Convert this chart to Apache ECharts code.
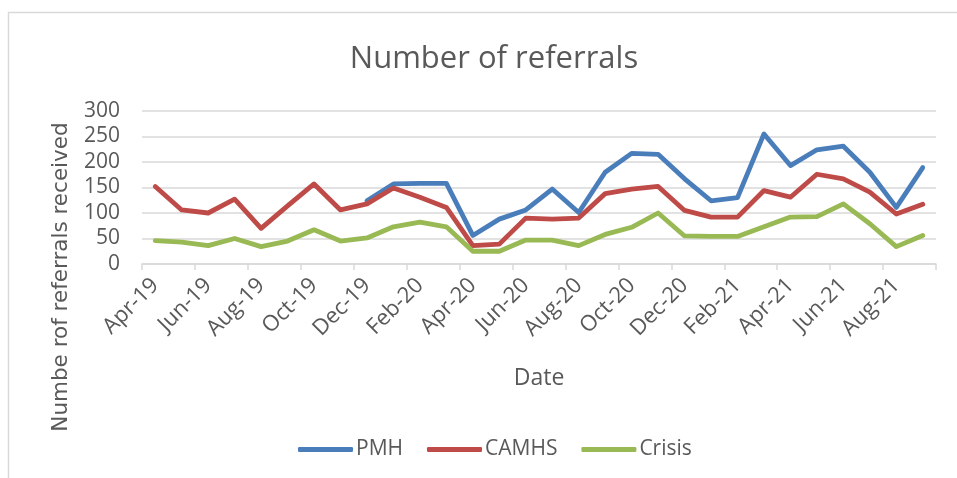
<!DOCTYPE html>
<html>
<head>
<meta charset="utf-8">
<script src="https://cdn.jsdelivr.net/npm/echarts@6/dist/echarts.min.js"></script>
<style>
html,body{margin:0;padding:0;background:#fff;}
#c{width:957px;height:478px;}
</style>
</head>
<body>
<div id="c"></div>
<script>
const categories = ["Apr-19","May-19","Jun-19","Jul-19","Aug-19","Sep-19","Oct-19","Nov-19","Dec-19","Jan-20","Feb-20","Mar-20","Apr-20","May-20","Jun-20","Jul-20","Aug-20","Sep-20","Oct-20","Nov-20","Dec-20","Jan-21","Feb-21","Mar-21","Apr-21","May-21","Jun-21","Jul-21","Aug-21","Sep-21"];
const pmh = [null,null,null,null,null,null,null,null,124,157,158,158,56,88,106,147,101,180,217,215,167,124,130,255,193,224,231,180,111,189];
const camhs = [152,106,100,127,70,114,157,106,118,149,131,111,36,39,90,88,90,138,147,152,105,92,92,144,131,176,167,141,98,117];
const crisis = [46,43,36,50,34,45,67,45,51,73,82,73,25,25,47,47,36,58,72,100,55,54,54,73,92,93,118,79,34,56];
const yTicks = [0,50,100,150,200,250,300];

const font = '"Open Sans", sans-serif';
const grey = '#595959';
const chart = echarts.init(document.getElementById('c'));
const lineStyle = (c) => ({ width: 4.8, color: c, cap: 'round', join: 'round' });
chart.setOption({
  animation: false,
  title: {
    text: 'Number of referrals',
    left: 489, top: 39, textAlign: 'center',
    textStyle: { fontFamily: font, fontSize: 31, fontWeight: 'normal', color: grey }
  },
  graphic: [
    { type: 'rect', shape: { x: 8.5, y: 12.5, width: 1000, height: 500 }, style: { fill: 'none', stroke: '#d9d9d9', lineWidth: 1.5 }, silent: true },
    { type: 'text', x: 61, y: 277, rotation: Math.PI / 2,
      style: { text: 'Numbe rof referrals received', font: '21.5px "DejaVu Sans"', fill: grey, align: 'center', verticalAlign: 'middle' } }
  ],
  legend: {
    bottom: 13, left: 293,
    itemWidth: 55, itemHeight: 5, itemGap: 24,
    icon: 'roundRect',
    textStyle: { fontFamily: font, fontSize: 21, color: grey, padding: [0, 0, 0, -2] },
    data: ['PMH', 'CAMHS', 'Crisis']
  },
  grid: { left: 142, right: 21, top: 111, bottom: 214 },
  xAxis: {
    type: 'category', data: categories, boundaryGap: true,
    name: 'Date', nameLocation: 'middle', nameGap: 103,
    nameTextStyle: { fontFamily: font, fontSize: 23, color: grey },
    axisLine: { lineStyle: { color: '#d9d9d9', width: 1.5 } },
    axisTick: { show: true, interval: 1, length: 6, lineStyle: { color: '#d9d9d9', width: 1.5 } },
    axisLabel: { interval: 1, rotate: 45, margin: 18, fontFamily: font, fontSize: 22, color: grey }
  },
  yAxis: {
    type: 'value', min: 0, max: 300, interval: 50,
    axisLine: { show: false }, axisTick: { show: false },
    splitLine: { lineStyle: { color: '#d9d9d9', width: 1.5 } },
    axisLabel: { margin: 22, fontFamily: font, fontSize: 21, color: grey,
      formatter: (v) => yTicks.includes(v) ? String(v) : '' }
  },
  series: [
    { name: 'PMH', type: 'line', data: pmh, symbol: 'none', lineStyle: lineStyle('#4A7EBB'), itemStyle: { color: '#4A7EBB' }, connectNulls: false },
    { name: 'CAMHS', type: 'line', data: camhs, symbol: 'none', lineStyle: lineStyle('#BE4B48'), itemStyle: { color: '#BE4B48' } },
    { name: 'Crisis', type: 'line', data: crisis, symbol: 'none', lineStyle: lineStyle('#98B954'), itemStyle: { color: '#98B954' } }
  ]
});
</script>
</body>
</html>
